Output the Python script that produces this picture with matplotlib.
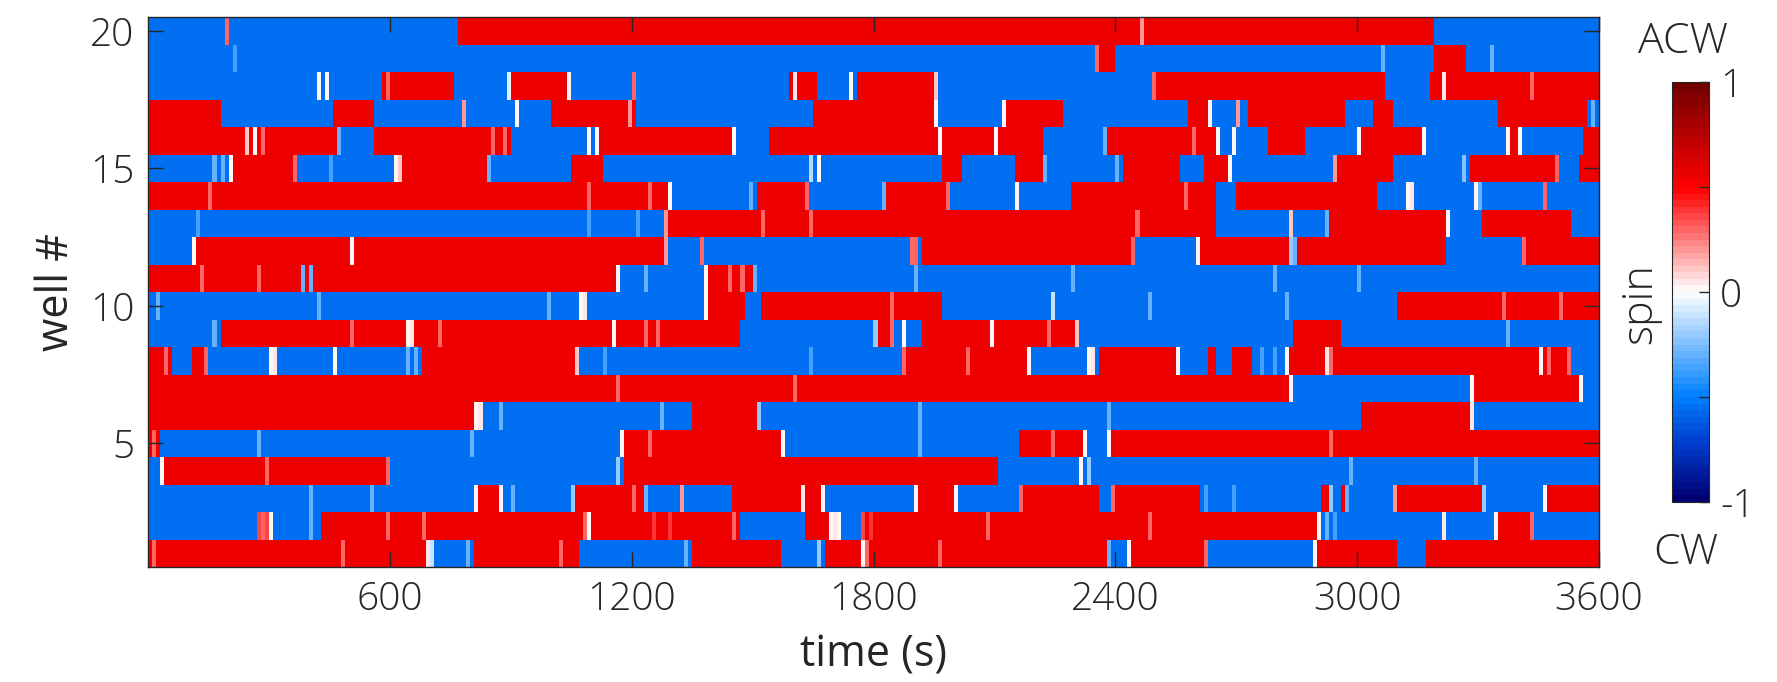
import numpy as np
import matplotlib
matplotlib.use('Agg')
from matplotlib import pyplot as plt
from matplotlib.colors import LinearSegmentedColormap

plt.rcParams['font.family'] = ['Open Sans', 'DejaVu Sans']
plt.rcParams['font.weight'] = 'light'

# time axis: 10 s bins over one hour
bin_s = 10
t_end = 3600
wells = list(range(1, 21))

red_val = 0.55
blue_val = -0.55

# per well: spin state at t=0 ('R' = ACW, 'B' = CW) and switch times (s)
start_state = {
    20: 'B', 19: 'B', 18: 'B', 17: 'R', 16: 'R', 15: 'B', 14: 'R', 13: 'B',
    12: 'B', 11: 'R', 10: 'B', 9: 'B', 8: 'R', 7: 'R', 6: 'R', 5: 'R',
    4: 'B', 3: 'B', 2: 'B', 1: 'R',
}
switches = {
    20: [762, 3183],
    19: [2347, 2392, 3183, 3265],
    18: [577, 752, 899, 1048, 1585, 1652, 1754, 1958, 2500, 3066, 3171],
    17: [172, 453, 553, 993, 1204, 1643, 1953, 2126, 2264, 2577, 2634, 2726,
         2966, 3036, 3089, 3347, 3564],
    16: [471, 553, 893, 1120, 1460, 1532, 2216, 2377, 2650, 2779, 2861, 3005,
         3165, 3380, 3395, 3560],
    15: [205, 363, 621, 842, 1043, 1128, 1968, 2020, 2143, 2216, 2418, 2555,
         2612, 2683, 2950, 3089, 3280, 3496, 3550],
    14: [1300, 1503, 1634, 1823, 1984, 2286, 2647, 2699, 3046],
    13: [1280, 2648, 2925, 3224, 3308, 3527],
    12: [118, 1287, 1911, 2448, 2603, 3213, 3415],
    11: [1168, 1390, 1510],
    10: [1390, 1479, 1514, 1965, 3091],
    9: [180, 1463, 1806, 1846, 1917, 2310, 2836, 2953],
    8: [52, 102, 148, 673, 1069, 1880, 2189, 2351, 2558, 2622, 2644, 2682,
        2737, 2830, 3528],
    7: [2838, 3283, 3552],
    6: [820, 1344, 1508, 3002, 3280],
    5: [30, 1180, 1570, 2157, 2320, 2385],
    4: [40, 600, 1172, 2108],
    3: [817, 880, 1060, 1223, 1450, 1673, 1910, 2002, 2157, 2357, 2400, 2606,
        2903, 2925, 2952, 2976, 3093, 3310, 3462],
    2: [266, 310, 427, 1464, 1626, 1690, 1766, 2900, 3343, 3431],
    1: [700, 802, 1066, 1342, 1568, 1676, 2380, 2432, 2630, 2898, 3097, 3167],
}

# short pale / white flickers (time, spin)
flickers = {
    20: [(193, 0.3), (2460, 0.2)],
    19: [(215, -0.35), (2350, 0.3), (3060, -0.3), (3330, -0.3)],
    18: [(420, 0.0), (440, 0.0), (590, 0.3), (895, -0.05), (1045, 0.0),
         (1209, 0.3), (1606, 0.05), (1746, 0.0), (1950, 0.1), (2497, 0.3),
         (3218, 0.05), (3435, 0.3)],
    17: [(780, 0.2), (917, 0.0), (1198, 0.2), (1950, 0.0), (2120, 0.0),
         (2632, 0.0), (2700, 0.2), (3580, -0.3)],
    16: [(240, 0.1), (260, 0.0), (280, 0.3), (475, -0.3), (850, 0.3),
         (880, 0.3), (1090, 0.0), (1110, 0.0), (1450, 0.0), (1960, 0.0),
         (2100, 0.0), (2370, -0.3), (2590, 0.3), (2655, 0.0), (2690, 0.0),
         (3000, 0.0), (3160, 0.0), (3375, 0.0), (3400, 0.0)],
    15: [(160, -0.3), (180, -0.3), (205, 0.0), (363, 0.3), (450, -0.35),
         (610, 0.0), (620, 0.1), (845, -0.3), (1640, -0.15), (1660, 0.0),
         (2225, -0.3), (2400, -0.3), (2680, 0.0), (2945, 0.2), (3260, -0.25),
         (3490, 0.3)],
    14: [(150, 0.3), (1090, 0.3), (1240, 0.3), (1295, 0.0), (1490, -0.3),
         (1630, 0.3), (1820, -0.3), (1980, 0.3), (2150, 0.0), (2570, 0.3),
         (3120, 0.0), (3130, 0.05), (3290, 0.0), (3300, -0.3), (3460, 0.3)],
    13: [(120, -0.35), (1090, -0.35), (1210, -0.35), (1280, 0.2), (1520, 0.3),
         (1640, 0.3), (2450, 0.3), (2830, 0.1), (2920, -0.3), (3222, 0.0)],
    12: [(115, 0.0), (505, 0.0), (1287, 0.2), (1375, 0.3), (1890, 0.3),
         (1900, 0.3), (2445, 0.3), (2600, 0.0), (2830, -0.2), (2845, -0.3),
         (3410, 0.3)],
    11: [(130, 0.3), (270, 0.3), (385, -0.3), (400, -0.3), (1165, 0.0),
         (1230, -0.3), (1385, 0.0), (1440, 0.3), (1475, 0.3), (1505, -0.3),
         (1905, -0.3), (2290, -0.3), (2795, -0.3), (3000, -0.3)],
    10: [(20, -0.3), (420, -0.3), (990, -0.3), (1070, 0.0), (1080, 0.05),
         (1385, 0.0), (1840, 0.3), (2245, -0.1), (2480, -0.3), (2820, -0.3),
         (3360, 0.3), (3500, 0.3)],
    9: [(160, -0.3), (500, 0.3), (640, 0.0), (650, 0.05), (720, 0.3),
        (1157, 0.0), (1230, 0.3), (1260, 0.3), (1800, -0.2), (1845, 0.3),
        (1870, 0.0), (2090, 0.0), (2230, 0.3), (2305, 0.1), (3375, -0.3)],
    8: [(45, 0.3), (145, 0.3), (300, 0.0), (310, 0.05), (465, 0.0),
        (640, -0.3), (660, -0.3), (1068, 0.1), (1130, -0.35), (1640, -0.35),
        (1875, 0.3), (2030, 0.3), (2187, 0.0), (2335, 0.0), (2345, 0.05),
        (2556, 0.0), (2760, -0.35), (2790, -0.35), (2827, 0.0), (2920, 0.05),
        (2935, 0.3), (3453, 0.0), (3475, 0.3), (3520, 0.3)],
    7: [(1160, 0.3), (1600, 0.3), (2838, 0.0), (3280, 0.0), (3550, 0.0)],
    6: [(815, 0.0), (825, 0.05), (870, -0.3), (1270, -0.3), (1510, -0.2),
        (1910, -0.3), (2380, -0.3), (3280, 0.05)],
    5: [(10, 0.3), (275, -0.3), (800, -0.3), (1175, 0.0), (1240, 0.3),
        (1570, 0.0), (1910, -0.3), (2240, 0.3), (2320, 0.0), (2380, 0.0),
        (2930, 0.3)],
    4: [(35, 0.0), (290, 0.3), (595, 0.3), (1168, -0.2), (2318, 0.0),
        (2330, -0.2), (2985, -0.3), (3295, -0.3)],
    3: [(400, -0.3), (555, -0.3), (815, 0.0), (878, 0.0), (900, -0.3),
        (1050, -0.2), (1205, 0.3), (1230, -0.3), (1327, 0.2), (1625, 0.05),
        (1670, 0.0), (1905, 0.0), (2000, 0.0), (2165, 0.3), (2390, 0.3),
        (2620, -0.35), (2690, -0.35), (2935, -0.2), (2978, -0.3), (3090, 0.2),
        (3310, -0.2), (3460, 0.0)],
    2: [(270, 0.35), (280, 0.3), (295, 0.35), (307, 0.0), (400, -0.3),
        (590, 0.3), (680, 0.3), (1080, 0.3), (1098, 0.0), (1250, 0.4),
        (1290, 0.4), (1450, 0.3), (1695, 0.0), (1705, 0.05), (1715, 0.0),
        (1770, 0.35), (1790, 0.4), (2088, 0.3), (2480, 0.3), (2902, 0.0),
        (2925, -0.3), (2940, -0.35), (3216, 0.05), (3341, 0.0), (3430, 0.3)],
    1: [(10, 0.3), (480, 0.3), (690, 0.05), (700, -0.1), (795, -0.3),
        (1025, 0.3), (1337, -0.3), (1665, -0.2), (1772, 0.0), (1785, 0.3),
        (1960, 0.3), (2385, -0.3), (2430, 0.0), (2625, 0.3), (2893, 0.0)],
}

# build the well x time matrix from the lists above
n_bins = t_end // bin_s
bin_start = np.arange(n_bins) * bin_s
spin = np.zeros((len(wells), n_bins))
for i, w in enumerate(wells):
    state = start_state[w]
    edges = [0] + switches[w] + [t_end]
    for k in range(len(edges) - 1):
        sel = (bin_start >= edges[k]) & (bin_start < edges[k + 1])
        spin[i, sel] = red_val if state == 'R' else blue_val
        state = 'B' if state == 'R' else 'R'
    for t, v in flickers[w]:
        spin[i, int(t // bin_s)] = v

cmap = LinearSegmentedColormap.from_list(
    'spin', [(0.0, (0.0, 0.0, 0.45)), (0.125, (0.0, 0.22, 0.78)),
             (0.25, (0.0, 0.5, 1.0)), (0.5, (1.0, 1.0, 1.0)),
             (0.75, (1.0, 0.0, 0.0)), (1.0, (0.45, 0.0, 0.0))], N=64)

W, H = 1777, 682
fig = plt.figure(figsize=(W / 100, H / 100), dpi=100)
ax = fig.add_axes([148 / W, 1 - 567 / H, 1451 / W, 550 / H])
im = ax.imshow(spin, cmap=cmap, vmin=-1, vmax=1, aspect='auto',
               origin='lower', interpolation='nearest',
               extent=[0, t_end, 0.5, 20.5])

dark = '#262626'
tick_fs = 28
label_fs = 31
ax.set_xlim(0, t_end)
ax.set_ylim(0.5, 20.5)
ax.set_xticks([600, 1200, 1800, 2400, 3000, 3600])
ax.set_yticks([5, 10, 15, 20])
ax.tick_params(direction='in', length=11, width=1, top=True, right=True,
               labelsize=tick_fs, colors=dark, pad=10)
for s in ax.spines.values():
    s.set_color(dark)
    s.set_linewidth(1)
ax.set_xlabel('time (s)', fontsize=label_fs, color=dark)
ax.xaxis.label.set_va('center')
ax.xaxis.set_label_coords(0.5, (567 - 655) / 550)
ax.set_ylabel('well #', fontsize=label_fs, color=dark)
ax.yaxis.label.set_va('center')
ax.yaxis.set_label_coords((57 - 148) / 1451, 0.5)

cax = fig.add_axes([1672 / W, 1 - 502 / H, 37 / W, 420 / H])
cb = fig.colorbar(im, cax=cax, ticks=[-1, -0.5, 0, 0.5, 1])
cb.ax.set_yticklabels(['-1', '', '0', '', '1'])
cb.ax.tick_params(direction='in', length=7, width=1, labelsize=tick_fs,
                  colors=dark, pad=8)
cb.outline.set_edgecolor(dark)
fig.text(1640 / W, 1 - 304 / H, 'spin', rotation=90, fontsize=label_fs,
         color=dark, ha='center', va='center')
fig.text(1683 / W, 1 - 42 / H, 'ACW', fontsize=label_fs, color=dark,
         ha='center', va='center')
fig.text(1686 / W, 1 - 553 / H, 'CW', fontsize=label_fs, color=dark,
         ha='center', va='center')

plt.savefig('out.png', dpi=100)
